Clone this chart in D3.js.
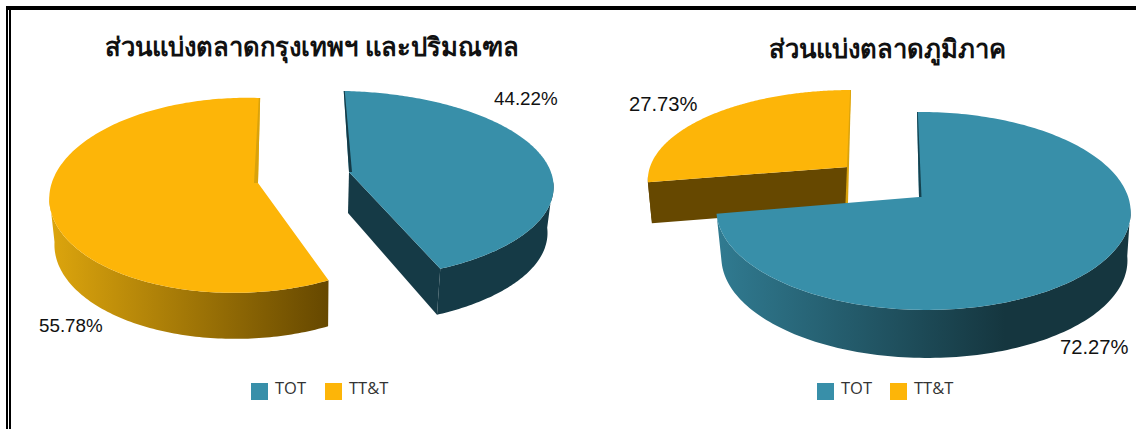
<!DOCTYPE html>
<html>
<head>
<meta charset="utf-8">
<script src="https://cdnjs.cloudflare.com/ajax/libs/d3/7.8.5/d3.min.js"></script>
<style>
html, body { margin: 0; background: #fff; overflow: hidden; }
text { font-family: "Liberation Sans", Arial, sans-serif; fill: #111; }
.title { font-size: 25.6px; font-weight: bold; text-anchor: middle; }
.leg { font-family: "Open Sans", sans-serif; font-size: 16.5px; fill: #333; }
</style>
</head>
<body>
<svg id="chart" width="1136" height="429"></svg>
<script>
// values
var categories = ["TOT", "TT&T"];
var bkkShare = [44.22, 55.78];
var regionShare = [72.27, 27.73];
var titles = ["ส่วนแบ่งตลาดกรุงเทพฯ และปริมณฑล", "ส่วนแบ่งตลาดภูมิภาค"];

var topColor = d3.scaleOrdinal().domain(categories).range(["#388fa9", "#fdb508"]);

var svg = d3.select("#chart");

// frame: heavy rule on top, double rule on the left
svg.append("rect").attr("x", 6).attr("y", 6).attr("width", 1130).attr("height", 4).attr("fill", "#000");
svg.append("rect").attr("x", 6).attr("y", 6).attr("width", 2).attr("height", 423).attr("fill", "#000");
svg.append("rect").attr("x", 9).attr("y", 9).attr("width", 2).attr("height", 420).attr("fill", "#000");

var defs = svg.append("defs");
function sideGradient(id, x1, x2, stops) {
    var g = defs.append("linearGradient").attr("id", id)
        .attr("gradientUnits", "userSpaceOnUse")
        .attr("x1", x1).attr("x2", x2).attr("y1", 0).attr("y2", 0);
    stops.forEach(function(s) { g.append("stop").attr("offset", s[0]).attr("stop-color", s[1]); });
}
sideGradient("goldSide", 54, 328, [[0, "#dba40d"], [1, "#664800"]]);
sideGradient("blueSide", 720, 1005, [[0, "#307a90"], [1, "#15363f"]]);

// every slice has its own perspective: the circle's centre lands on (ax, ay)
function projector(p) {
    return function(a, down) {
        var u = Math.sin(a), v = Math.cos(a),
            w = 1 + p.p * v + p.q * u,
            s = down ? p.shrink : 1;
        return [
            p.ax + s * (p.A * u + p.B * v) / w + (down ? p.dx : 0),
            p.ay + (-p.C * v + p.D * u) / w + (down ? p.depth : 0)
        ];
    };
}

function drawSlice(g, arc, p, side, wall, sliver) {
    var pr = projector(p),
        steps = d3.range(0, 201).map(function(i) {
            return arc.startAngle + (arc.endAngle - arc.startAngle) * i / 200;
        }),
        line = d3.line(),
        apex = [p.ax, p.ay],
        apexB = [p.ax + p.dx, p.ay + p.apexDepth];

    // rim wall starts where the top ellipse is at its widest
    var front = steps.filter(function(a) { return Math.cos(a) < -0.1; });

    // the cut edge that faces the viewer, when there is one
    if (wall) {
        var cut = arc[p.wallEdge];
        g.append("path")
            .attr("fill", wall)
            .attr("d", line([apex, pr(cut), pr(cut, true), apexB]) + "Z");
    }
    g.append("path")
        .attr("fill", side)
        .attr("d", line(front.map(function(a) { return pr(a); })
            .concat(front.slice().reverse().map(function(a) { return pr(a, true); }))) + "Z");
    g.append("path")
        .attr("fill", topColor(arc.data.name))
        .attr("d", line([apex].concat(steps.map(function(a) { return pr(a); }))) + "Z");

    // thin strip of the far wall that shows along the straight edge at 12 o'clock
    var s = pr(arc[p.sliverEdge]), e = [p.ax, p.ay + p.sliverDepth];
    g.append("path")
        .attr("fill", sliver)
        .attr("d", line([s, e, [e[0] + p.sliverW, e[1]], [s[0] + p.sliverW / 3, s[1]]]) + "Z");
}

function slices(values, start) {
    return d3.pie().sort(null).startAngle(start).endAngle(start + 2 * Math.PI)
        .value(function(d) { return d.value; })(
            categories.map(function(c, i) { return {name: c, value: values[i]}; }));
}

function legend(x, gap) {
    var y = 383;
    var item = svg.append("g").selectAll("g").data(categories).enter().append("g")
        .attr("transform", function(d, i) { return "translate(" + (x + i * gap) + "," + y + ")"; });
    item.append("rect").attr("width", 17).attr("height", 17)
        .attr("fill", function(d) { return topColor(d); });
    item.append("text").attr("class", "leg").attr("x", 24).attr("y", 11).text(function(d) { return d; });
}

// left pie, TOT runs clockwise from 12 o'clock, TT&T closes the circle
var left = slices(bkkShare, 0);
var lg = svg.append("g");
drawSlice(lg, left[1], {ax: 258, ay: 183, A: 188, B: 2.4, C: 95.6, D: -1, p: 0.125, q: 0.09, depth: 46, apexDepth: 41, dx: 1, shrink: 0.98, sliverEdge: "endAngle", sliverW: -4, sliverDepth: 0}, "url(#goldSide)", null, "#d9a20c");
drawSlice(lg, left[0], {ax: 349, ay: 172, A: 213, B: -6, C: 92.2, D: 0, p: 0.138, q: 0.055, depth: 46, apexDepth: 41, dx: -1, shrink: 0.975, wallEdge: "endAngle", sliverEdge: "startAngle", sliverW: 3, sliverDepth: 0}, "#153a46", "#153a46", "#153a46");

// right pie
var right = slices(regionShare, 0);
var rg = svg.append("g");
drawSlice(rg, right[1], {ax: 848, ay: 167, A: 198, B: 3.4, C: 87, D: 0, p: 0.13, q: 0, depth: 41, apexDepth: 41, dx: 0, shrink: 0.98, wallEdge: "startAngle", sliverEdge: "endAngle", sliverW: -2.5, sliverDepth: 36}, "#664800", "#664800", "#d9a20c");
drawSlice(rg, right[0], {ax: 919, ay: 197, A: 205, B: -2.3, C: 97, D: 0, p: 0.141, q: -0.02, depth: 48, apexDepth: 46, dx: 1, shrink: 0.98, sliverEdge: "startAngle", sliverW: 2.5, sliverDepth: 0}, "url(#blueSide)", null, "#15424f");

svg.append("text").attr("class", "title").attr("x", 312).attr("y", 56).text(titles[0]);
svg.append("text").attr("class", "title").attr("x", 887.5).attr("y", 58).text(titles[1]);

var fmt = d3.format(".2f");
var labelText = [fmt(bkkShare[0]) + "%", fmt(bkkShare[1]) + "%", fmt(regionShare[0]) + "%", fmt(regionShare[1]) + "%"];
var labelX = [494, 39, 1060, 629];
var labelY = [105, 332, 354, 111];
var labelSize = [18.8, 18.8, 20.2, 20.2];
svg.selectAll(".lab").data(labelText).enter().append("text").attr("class", "lab")
    .attr("x", function(d, i) { return labelX[i]; })
    .attr("y", function(d, i) { return labelY[i]; })
    .style("font-size", function(d, i) { return labelSize[i] + "px"; })
    .text(function(d) { return d; });

legend(251, 74);
legend(817, 73);
</script>
</body>
</html>
